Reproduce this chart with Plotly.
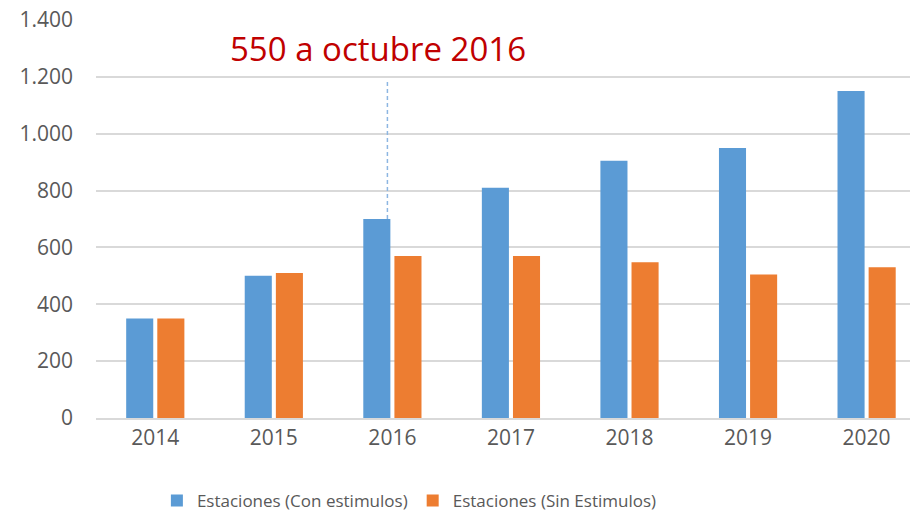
import plotly.graph_objects as go

years = ["2014", "2015", "2016", "2017", "2018", "2019", "2020"]
con_estimulos = [350, 500, 700, 810, 905, 950, 1150]
sin_estimulos = [350, 510, 570, 570, 548, 505, 530]
annotation_text = "550 a octubre 2016"
line_top = 1190

FONT = "Open Sans"
GRAY = "#595959"

fig = go.Figure()
fig.add_trace(go.Bar(x=years, y=con_estimulos, name="Estaciones (Con estimulos)",
                     marker=dict(color="#5B9BD5", line=dict(width=0))))
fig.add_trace(go.Bar(x=years, y=sin_estimulos, name="Estaciones (Sin Estimulos)",
                     marker=dict(color="#ED7D31", line=dict(width=0))))

fig.add_shape(type="line", xref="x", yref="y", x0=1.958, x1=1.958,
              y0=con_estimulos[2], y1=line_top,
              line=dict(color="#8DB6E2", width=1.5, dash="4px,3px"))
fig.add_annotation(x=1.88, y=1300, xref="x", yref="y", text=annotation_text,
                   showarrow=False, font=dict(family=FONT, size=33, color="#C00000"))

fig.update_layout(
    width=910, height=512,
    margin=dict(l=96, r=0, t=20, b=94, autoexpand=False),
    paper_bgcolor="white", plot_bgcolor="white",
    barmode="group", bargap=0.475, bargroupgap=0.13,
    separators=",.",
    font=dict(family=FONT, color=GRAY, size=17),
    showlegend=True,
    legend=dict(orientation="h", x=0.385, xanchor="center", y=-0.163, yanchor="top",
                font=dict(size=17, color=GRAY), itemwidth=30, tracegroupgap=0),
    xaxis=dict(range=[-0.5, 6.366], showgrid=False, showline=True, linecolor="#D9D9D9",
               linewidth=1.5, ticks="", tickfont=dict(size=21, color=GRAY), automargin=False),
    yaxis=dict(range=[0, 1400], dtick=200, tickformat=",d", showgrid=True,
               gridcolor="#D9D9D9", gridwidth=1.5, zeroline=False, showline=False,
               ticks="", ticklabelstandoff=22, tickfont=dict(size=21, color=GRAY),
               ticklabeloverflow="allow", automargin=False),
)

fig.write_html("out.html",
               config={"displayModeBar": False},
               post_script="document.body.style.margin='0';document.body.style.overflow='hidden';")
